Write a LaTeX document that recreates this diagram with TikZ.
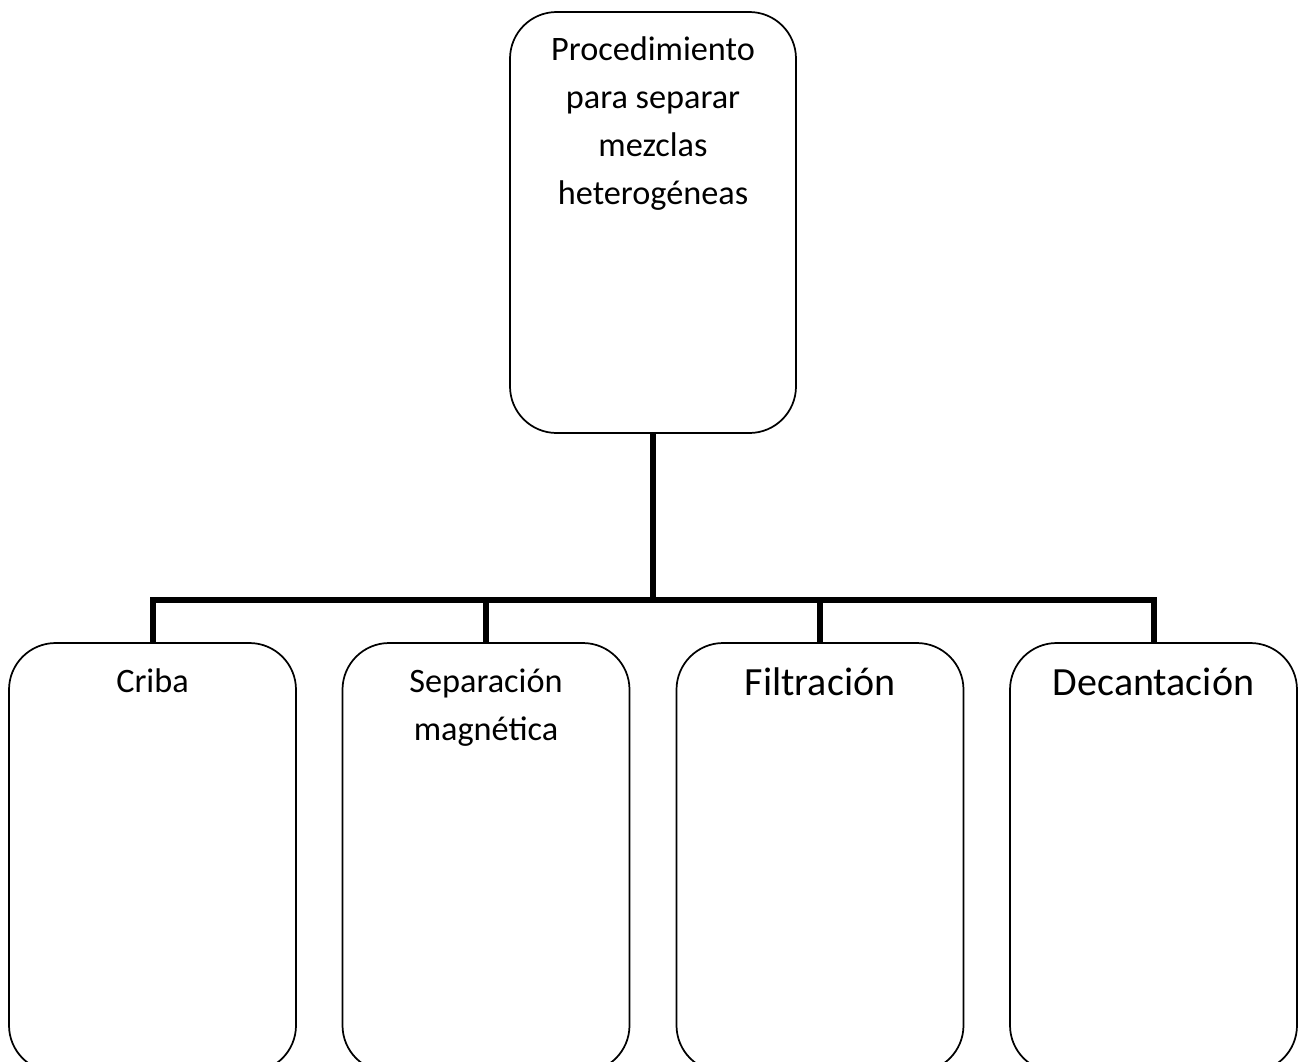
\documentclass[tikz,border=0pt]{standalone}
\usepackage{fontspec}
\setmainfont{Carlito}
\tikzset{
  box/.style={draw=black, line width=1.3pt, rounded corners=35pt, rectangle, outer sep=0pt, inner sep=0pt, minimum width=215.25pt, fill=white},
  conn/.style={draw=black, line width=4.5pt, line join=miter},
  lbl/.style={inner sep=0pt, anchor=base, align=center, font=\fontsize{25.7}{36}\selectfont},
  biglbl/.style={inner sep=0pt, anchor=base, align=center, font=\fontsize{30}{36}\selectfont}
}
\begin{document}
\begin{tikzpicture}[x=0.75pt,y=-0.75pt]
\useasboundingbox (0,0) rectangle (1303,1061);
\clip (0,0) rectangle (1303,1061);
\node[box, minimum width=214.5pt, minimum height=315.75pt] (top) at (653,222.5) {};
\node[box, minimum height=321.75pt] (b1) at (152.5,857.5) {};
\node[box, minimum height=321.75pt] (b2) at (486,857.5) {};
\node[box, minimum height=321.75pt] (b3) at (820,857.5) {};
\node[box, minimum height=321.75pt] (b4) at (1153.5,857.5) {};
\coordinate (j) at (653,600);
\draw[conn] (top.south) -- (j);
\draw[conn] (b1.north) |- (j);
\draw[conn] (b2.north) |- (j);
\draw[conn] (b3.north) |- (j);
\draw[conn] (b4.north) |- (j);
\node[lbl] (ttop) at (653,204) {Procedimiento\\para separar\\mezclas\\heterogéneas};
\node[lbl] (t1) at (152.5,692) {Criba};
\node[lbl] (t2) at (486,740) {Separación\\magnética};
\node[biglbl] (t3) at (820,695) {Filtración};
\node[biglbl] (t4) at (1153.5,695) {Decantación};
\end{tikzpicture}
\end{document}
